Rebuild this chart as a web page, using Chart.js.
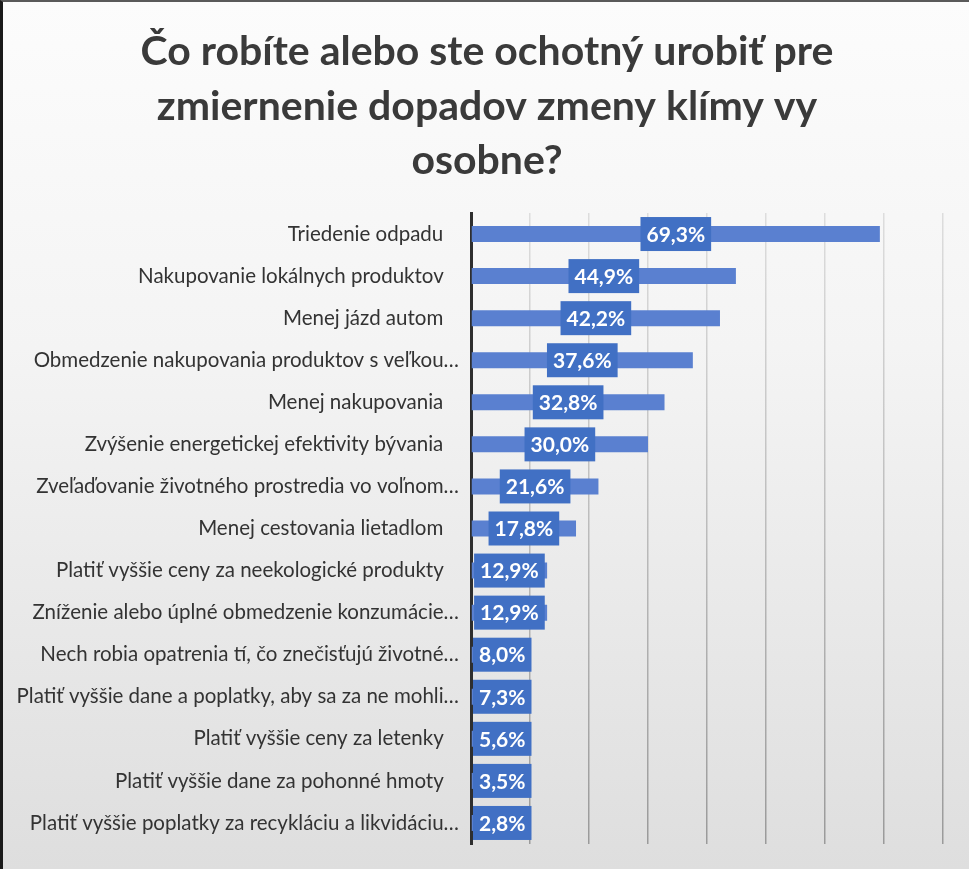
<!DOCTYPE html>
<html>
<head>
<meta charset="utf-8">
<script src="https://cdn.jsdelivr.net/npm/chart.js@4.4.1/dist/chart.umd.min.js"></script>
<style>
    html, body { margin: 0; padding: 0; }
    body {
        width: 969px;
        height: 869px;
        overflow: hidden;
        background: linear-gradient(to bottom, #fcfcfc 0%, #f4f4f4 40%, #dedede 100%);
        box-sizing: border-box;
        border-left: 3px solid #1a1a1a;
        border-top: 2px solid #5a5a5a;
    }
    #wrap { position: absolute; left: 0; top: 0; width: 969px; height: 869px; }
</style>
</head>
<body>
<div id="wrap"><canvas id="chart" width="969" height="869"></canvas></div>
<script>
const titleLines = [
    'Čo robíte alebo ste ochotný urobiť pre',
    'zmiernenie dopadov zmeny klímy vy',
    'osobne?'
];
const categories = [
    'Triedenie odpadu',
    'Nakupovanie lokálnych produktov',
    'Menej jázd autom',
    'Obmedzenie nakupovania produktov s veľkou…',
    'Menej nakupovania',
    'Zvýšenie energetickej efektivity bývania',
    'Zveľaďovanie životného prostredia vo voľnom…',
    'Menej cestovania lietadlom',
    'Platiť vyššie ceny za neekologické produkty',
    'Zníženie alebo úplné obmedzenie konzumácie…',
    'Nech robia opatrenia tí, čo znečisťujú životné…',
    'Platiť vyššie dane a poplatky, aby sa za ne mohli…',
    'Platiť vyššie ceny za letenky',
    'Platiť vyššie dane za pohonné hmoty',
    'Platiť vyššie poplatky za recykláciu a likvidáciu…'
];
const shares = [69.3, 44.9, 42.2, 37.6, 32.8, 30.0, 21.6, 17.8, 12.9, 12.9, 8.0, 7.3, 5.6, 3.5, 2.8];
const axisMax = 80;
const gridStep = 10;

function fmtPct(v) {
    return v.toFixed(1).replace('.', ',') + '%';
}

// title drawn by hand so it can sit a bit right of the canvas centre
const slideTitle = {
    id: 'slideTitle',
    afterDraw(chart) {
        const ctx = chart.ctx;
        ctx.save();
        ctx.font = 'bold 41px Lato';
        ctx.fillStyle = '#3a3a3a';
        ctx.textAlign = 'center';
        ctx.textBaseline = 'middle';
        titleLines.forEach(function (line, i) {
            ctx.fillText(line, 487, 52 + i * 54.5);
        });
        ctx.restore();
    }
};

// value boxes, centred on the bar but never left of the axis
const valueBoxes = {
    id: 'valueBoxes',
    afterDatasetsDraw(chart) {
        const ctx = chart.ctx;
        const area = chart.chartArea;
        const meta = chart.getDatasetMeta(0);
        ctx.save();
        ctx.font = 'bold 21px Lato';
        ctx.textBaseline = 'middle';
        ctx.textAlign = 'center';
        meta.data.forEach(function (bar, i) {
            const txt = fmtPct(shares[i]);
            const w = ctx.measureText(txt).width + 12;
            const h = 34;
            let left = (bar.base + bar.x) / 2 - w / 2;
            if (left < area.left + 2) left = area.left + 2;
            ctx.fillStyle = '#4170c4';
            ctx.fillRect(left, bar.y - h / 2, w, h);
            ctx.fillStyle = '#ffffff';
            ctx.fillText(txt, left + w / 2, bar.y + 1);
        });
        ctx.restore();
    }
};

const ctx = document.getElementById('chart').getContext('2d');
const myChart = new Chart(ctx, {
    type: 'bar',
    data: {
        labels: categories,
        datasets: [{
            data: shares,
            backgroundColor: '#5a80d0',
            barPercentage: 0.38,
            categoryPercentage: 1
        }]
    },
    options: {
        indexAxis: 'y',
        responsive: false,
        animation: false,
        devicePixelRatio: 1,
        layout: {
            padding: { left: 5, right: 26, top: 213, bottom: 25 }
        },
        scales: {
            x: {
                min: 0,
                max: axisMax,
                ticks: { display: false, stepSize: gridStep },
                border: { display: false },
                grid: {
                    drawTicks: false,
                    lineWidth: 1.5,
                    color: function (c) {
                        const area = c.chart.chartArea;
                        if (!area) return '#bbbbbb';
                        const g = c.chart.ctx.createLinearGradient(0, area.top, 0, area.bottom);
                        g.addColorStop(0, '#dddddd');
                        g.addColorStop(1, '#9a9a9a');
                        return g;
                    }
                }
            },
            y: {
                afterFit: function (scale) { scale.width = 466; },
                grid: { display: false },
                border: { display: true, color: '#2e2e2e', width: 3 },
                ticks: {
                    color: '#333333',
                    padding: 4,
                    font: { family: 'Lato', size: 20.5 },
                    // labels that were not cut off sit a little further from the axis
                    callback: function (value) {
                        const lbl = categories[value];
                        return lbl.endsWith('…') ? lbl : lbl + '\u00a0\u00a0\u00a0';
                    }
                }
            }
        },
        plugins: {
            legend: { display: false },
            tooltip: { enabled: false },
            title: { display: false }
        }
    },
    plugins: [valueBoxes, slideTitle]
});
</script>
</body>
</html>
